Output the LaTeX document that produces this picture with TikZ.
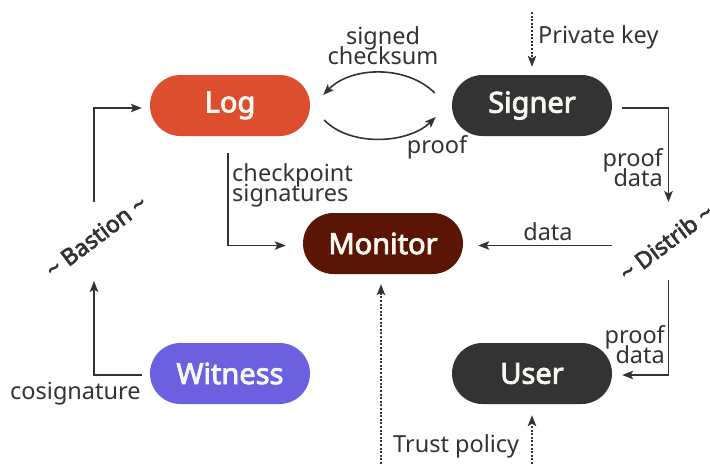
\documentclass[tikz,border=0pt]{standalone}
\usepackage{fontspec}
\setmainfont{Noto Sans}[AutoFakeBold=3]
\usetikzlibrary{arrows.meta,calc}
\definecolor{ink}{HTML}{333333}
\definecolor{logc}{HTML}{DC4E2E}
\definecolor{monc}{HTML}{5A1505}
\definecolor{witc}{HTML}{6B60E0}
\definecolor{darkc}{HTML}{333333}
\definecolor{paper}{HTML}{F7F7F2}
\tikzset{
  box/.style={rectangle, rounded corners=30.5pt, minimum width=160pt,
    minimum height=61pt, inner sep=0pt, text=paper,
    font=\fontsize{29}{30}\selectfont\bfseries},
  grp/.style={inner sep=0pt, text=ink, font=\fontsize{23}{24}\selectfont\bfseries},
  lbl/.style={inner sep=0pt, text=ink, font=\fontsize{23.5}{20.5}\selectfont},
  lbl2/.style={lbl, text depth=0pt},
  arr/.style={draw=ink, line width=1.6pt,
    -{Stealth[length=11pt,width=8.5pt,inset=2.5pt]}},
  darr/.style={arr, dash pattern=on 2pt off 1.6pt},
}
\begin{document}
\begin{tikzpicture}[x=1pt,y=-1pt]
% keep two-line labels at their fixed line spacing
\lineskiplimit=-100pt
\useasboundingbox (0,0) rectangle (710,464);

% main components
\node[box, fill=logc]    (log)     at (230,105.5) {Log};
\node[box, fill=darkc]   (signer)  at (532,105.5) {Signer};
\node[box, fill=monc]    (monitor) at (383,243.5) {Monitor};
\node[box, fill=witc]    (witness) at (230,373.5) {Witness};
\node[box, fill=darkc]   (user)    at (532,373.5) {User};

% relay groups
\node[grp, rotate=37] (bastion) at (96,236) {\textasciitilde{} Bastion \textasciitilde};
\node[grp, rotate=37] (distrib) at (666,242) {\textasciitilde{} Distrib \textasciitilde};

% loose ends of the connectors
\coordinate (bT) at (94,202);
\coordinate (bB) at (94,281);
\coordinate (dT) at (668.5,202);
\coordinate (dB) at (668.5,280);
\coordinate (dL) at (612,245.5);
\coordinate (pk) at (532,12);
\coordinate (tpm) at (381,464);
\coordinate (tpu) at (532,464);

% log <-> signer
\draw[arr] ([xshift=-17pt,yshift=12.5pt]signer.west)
  .. controls +(-28,-28) and +(28,-29) .. ([xshift=13pt,yshift=10.5pt]log.east);
\draw[arr] ([xshift=14pt,yshift=-14.5pt]log.east)
  .. controls +(26,27) and +(-28,27) .. ([xshift=-16pt,yshift=-11.5pt]signer.west);
\node[lbl2, anchor=south, align=center] (lsig) at (383,65) {signed\\checksum};
\node[lbl, anchor=base] (lproof) at (437,153.5) {proof};

% private key
\draw[darr] (pk) -- ([yshift=8pt]signer.north);
\node[lbl, anchor=base west] (lpk) at (538,43) {Private key};

% signer -> distrib
\draw[arr] ([xshift=10pt,yshift=-2.5pt]signer.east) -| (dT);
\node[lbl2, anchor=south east, align=right] (lpd1) at (663,187) {proof\\data};

% distrib -> monitor
\draw[arr] (dL) -- ([xshift=15pt,yshift=-2pt]monitor.east);
\node[lbl, anchor=base] (ldata) at (548,240) {data};

% distrib -> user
\draw[arr] (dB) |- ([xshift=10pt,yshift=-1.5pt]user.east);
\node[lbl2, anchor=south east, align=right] (lpd2) at (665,364) {proof\\data};

% trust policy
\draw[darr] (tpm) -- ([xshift=-2pt,yshift=-10pt]monitor.south);
\draw[darr] (tpu) -- ([yshift=-11pt]user.south);
\node[lbl, anchor=base west] (ltp) at (393,452) {Trust policy};

% log -> monitor
\draw[arr] ([xshift=-2pt,yshift=-17pt]log.south) |- ([xshift=-17pt,yshift=-2pt]monitor.west);
\node[lbl2, anchor=south west, align=left] (lcs) at (232,202) {checkpoint\\signatures};

% witness -> bastion -> log
\draw[arr] ([xshift=-8pt,yshift=-1.5pt]witness.west) -| (bB);
\draw[arr] (bT) |- ([xshift=-8pt,yshift=-2.5pt]log.west);
\node[lbl, anchor=base west] (lcos) at (10,399) {cosignature};
\end{tikzpicture}
\end{document}
